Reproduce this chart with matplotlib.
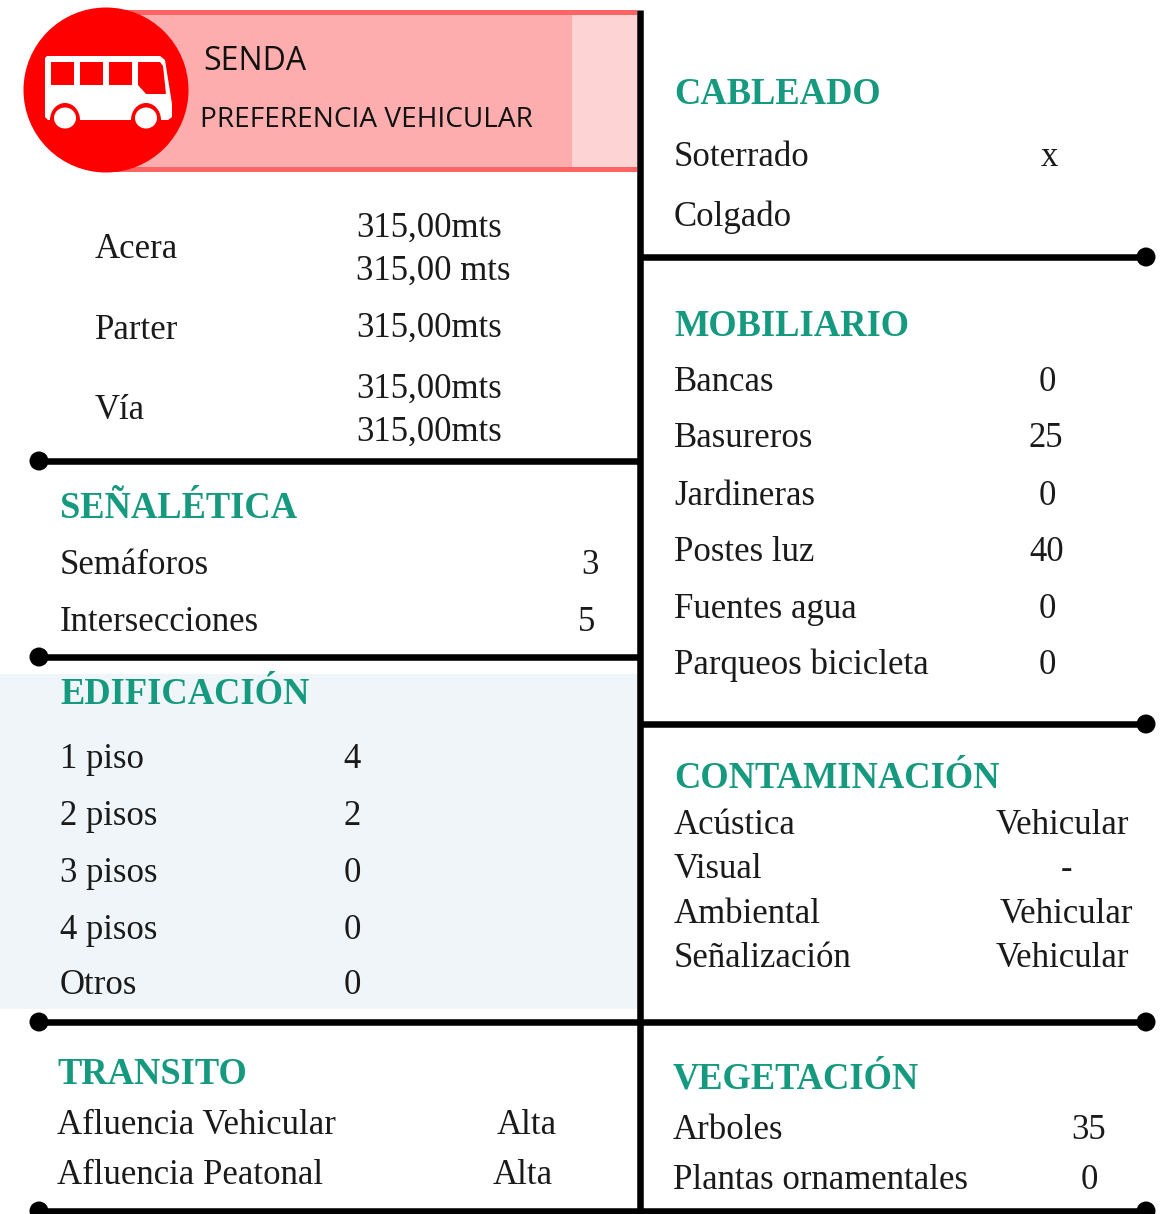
import matplotlib
matplotlib.use("Agg")
from matplotlib import pyplot as plt
from matplotlib.patches import Rectangle, Ellipse, Polygon

SERIF = "Liberation Serif"
SANS = "Open Sans"
GREEN = "#159a80"

title_lines = ["SENDA", "PREFERENCIA VEHICULAR"]

via_labels = ["Acera", "Parter", "Vía"]
via_values = ["315,00mts", "315,00 mts", "315,00mts", "315,00mts", "315,00mts"]

senal_title = "SEÑALÉTICA"
senal_labels = ["Semáforos", "Intersecciones"]
senal_values = ["3", "5"]

edif_title = "EDIFICACIÓN"
edif_labels = ["1 piso", "2 pisos", "3 pisos", "4 pisos", "Otros"]
edif_values = ["4", "2", "0", "0", "0"]

trans_title = "TRANSITO"
trans_labels = ["Afluencia Vehicular", "Afluencia Peatonal"]
trans_values = ["Alta", "Alta"]

cable_title = "CABLEADO"
cable_labels = ["Soterrado", "Colgado"]
cable_values = ["x", ""]

mob_title = "MOBILIARIO"
mob_labels = ["Bancas", "Basureros", "Jardineras", "Postes luz", "Fuentes agua", "Parqueos bicicleta"]
mob_values = ["0", "25", "0", "40", "0", "0"]

cont_title = "CONTAMINACIÓN"
cont_labels = ["Acústica", "Visual", "Ambiental", "Señalización"]
cont_values = ["Vehicular", "-", "Vehicular", "Vehicular"]

veg_title = "VEGETACIÓN"
veg_labels = ["Arboles", "Plantas ornamentales"]
veg_values = ["35", "0"]

fig = plt.figure(figsize=(11.6, 12.14), dpi=100)
ax = fig.add_axes([0, 0, 1, 1])
ax.set_xlim(0, 1160)
ax.set_ylim(1214, 0)
ax.axis("off")


def heading(x, y, s):
    ax.text(x, y + 0.5, s, family=SERIF, fontsize=26.3, fontweight="bold", color=GREEN, va="baseline")


def body(x, y, s, ha="left"):
    ax.text(x, y + 1, s, family=SERIF, fontsize=25, color="#1a1a1a", va="baseline", ha=ha)


def rows(labels, values, x_label, x_values, ys):
    for lab, val, x_val, y in zip(labels, values, x_values, ys):
        body(x_label, y, lab)
        body(x_val, y, val, ha="center")


# header band
ax.add_patch(Rectangle((105, 10), 532, 162, fc="#ff6464", ec="none", zorder=1))
ax.add_patch(Rectangle((105, 15), 467, 152, fc="#fdadad", ec="none", zorder=2))
ax.add_patch(Rectangle((572, 15), 65, 152, fc="#fdd3d3", ec="none", zorder=2))
ax.add_patch(Ellipse((106, 90), 165, 165, fc="#ff0000", ec="none", zorder=3))

# bus icon
ax.add_patch(Polygon([(47, 56), (160, 56), (165, 60), (172, 104), (172, 117), (168, 120),
                      (48, 120), (45, 117), (45, 58)], fc="white", ec="none", zorder=4))
for x0 in (51, 80, 109):
    ax.add_patch(Rectangle((x0, 62), 23, 23, fc="#ff0000", ec="none", zorder=5))
ax.add_patch(Polygon([(138, 62), (160, 62), (163, 66), (166, 94), (146, 94), (138, 85)],
                     fc="#ff0000", ec="none", zorder=5))
for cx in (65, 146):
    ax.add_patch(Ellipse((cx, 120), 30, 34, fc="#ff0000", ec="none", zorder=5))
    ax.add_patch(Ellipse((cx, 118), 22, 21, fc="white", ec="none", zorder=6))

ax.text(203, 70, title_lines[0], family=SANS, fontsize=23, color="#111111", va="baseline", zorder=7)
ax.text(200, 127, title_lines[1], family=SANS, fontsize=20.2, color="#111111", va="baseline", zorder=7)

# pale block behind EDIFICACION
ax.add_patch(Rectangle((0, 674), 638, 335, fc="#f0f5f9", ec="none", zorder=0))

# rules
for x0, x1, y in [(39, 640, 461), (39, 640, 657), (39, 1146, 1022), (39, 1146, 1211),
                  (640, 1146, 257), (640, 1146, 724)]:
    ax.plot([x0, x1], [y, y], color="black", lw=4.7, solid_capstyle="butt", zorder=8)
for x, y in [(39, 461), (39, 657), (39, 1022), (39, 1211), (1146, 257), (1146, 724),
             (1146, 1022), (1146, 1211)]:
    ax.add_patch(Ellipse((x, y), 19, 19, fc="black", ec="none", zorder=8))
ax.plot([640, 640], [10, 1214], color="black", lw=4.7, solid_capstyle="butt", zorder=9)

# top left block
for lab, y in zip(via_labels, [257, 338, 418]):
    body(95, y, lab)
for val, y in zip(via_values, [236, 279, 336, 397, 440]):
    body(356, y, val)

heading(60, 517, senal_title)
rows(senal_labels, senal_values, 60, [590, 587], [573, 630])

heading(60, 704, edif_title)
rows(edif_labels, edif_values, 60, [352] * 5, [767, 824, 881, 938, 993])

heading(57, 1083, trans_title)
rows(trans_labels, trans_values, 57, [527, 523], [1133, 1183])

heading(674, 104, cable_title)
rows(cable_labels, cable_values, 674, [1049, 1049], [165, 225])

heading(674, 335, mob_title)
rows(mob_labels, mob_values, 674, [1047, 1046, 1047, 1047, 1047, 1047], [390, 446, 504, 560, 617, 673])

heading(674, 788, cont_title)
rows(cont_labels, cont_values, 674, [1062, 1067, 1066, 1062], [833, 877, 922, 966])

heading(673, 1088, veg_title)
rows(veg_labels, veg_values, 673, [1089, 1089], [1138, 1188])

fig.savefig("out.png", dpi=100)
